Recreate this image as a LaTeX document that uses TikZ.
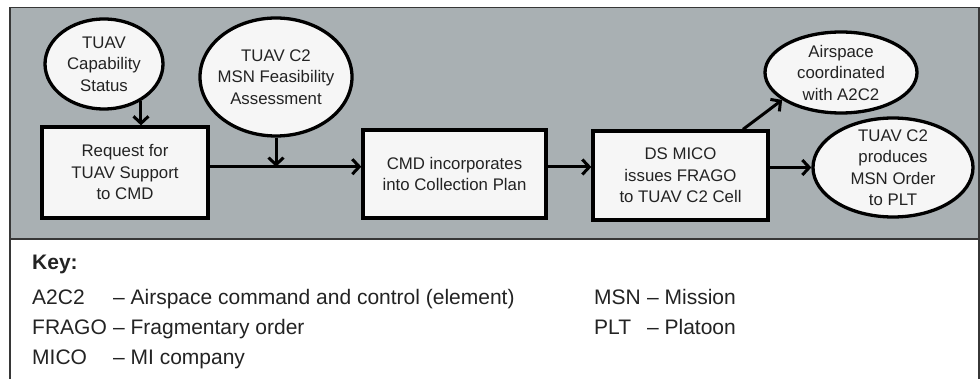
\documentclass[tikz,border=0pt]{standalone}
\usepackage{fontspec}
\setmainfont{Liberation Sans}
\usetikzlibrary{shapes.geometric,arrows.meta}
\definecolor{panelgray}{RGB}{169,176,179}
\definecolor{boxfill}{RGB}{246,246,246}
\definecolor{framegray}{RGB}{55,55,55}
\definecolor{inkgray}{RGB}{35,35,35}
\newcommand{\keyfont}{\fontsize{21}{25}\selectfont}
\newlength{\abbrwidth}
\settowidth{\abbrwidth}{\keyfont FRAGO\ }
\newlength{\abbrwidthb}
\settowidth{\abbrwidthb}{\keyfont MSN\ }
\begin{document}
\begin{tikzpicture}[x=1pt,y=-1pt,
  every node/.style={font=\fontsize{16.8}{21.5}\selectfont, text=inkgray},
  stepbox/.style={draw=black, line width=3.3pt, fill=boxfill, inner sep=0pt, align=center},
  oval/.style={ellipse, draw=black, line width=3.3pt, fill=boxfill,
    inner xsep=-8pt, inner ysep=-12pt, align=center},
  flow/.style={draw=black, line width=3pt, -{Straight Barb[length=7pt,width=15pt]}},
  keytext/.style={font=\keyfont, anchor=base west, inner sep=0pt},
  keyabbr/.style={keytext, text width=\abbrwidth, align=left},
  keyabbrb/.style={keytext, text width=\abbrwidthb, align=left}]
\useasboundingbox (0,0) rectangle (980,379);
\fill[white] (0,0) rectangle (980,379);

% grey process panel and outer frame
\fill[panelgray] (10,7.5) rectangle (979,239);
\draw[framegray, line width=1.2pt] (10,7.5) rectangle (979,392);
\draw[framegray, line width=1.2pt] (10,239) -- (979,239);

% inputs and outputs
\node[oval, minimum width=118, minimum height=90] (cap) at (104,64) {TUAV\\Capability\\Status};
\node[oval, minimum width=152, minimum height=118] (feas) at (276,77) {TUAV C2\\MSN Feasibility\\Assessment};
\node[oval, minimum width=152, minimum height=81] (air) at (841,72.5) {Airspace\\coordinated\\with A2C2};
\node[oval, minimum width=160, minimum height=99] (order) at (893,167.5) {TUAV C2\\produces\\MSN Order\\to PLT};

% process steps
\node[stepbox, minimum width=166, minimum height=91] (req) at (125,172.5) {Request for\\TUAV Support\\to CMD};
\node[stepbox, minimum width=183, minimum height=88] (cmd) at (454.5,174) {CMD incorporates\\into Collection Plan};
\node[stepbox, minimum width=175, minimum height=89] (mico) at (680.5,175.5) {DS MICO\\issues FRAGO\\to TUAV C2 Cell};

% connectors
\coordinate (reqout) at ([yshift=5.8pt]req.east);
\coordinate (cmdout) at ([yshift=7pt]cmd.east);
\coordinate (micotop) at ([xshift=62.5pt]mico.north);
\draw[flow] (cap.-45) -- (cap.-45 |- req.north);
\draw[flow] (reqout) -- (reqout -| cmd.west);
\draw[flow] (feas.south) -- (feas.south |- reqout);
\draw[flow] (cmdout) -- (cmdout -| mico.west);
\draw[flow] (mico.east |- order.west) -- (order.west);
\draw[flow] (micotop) -- (air.205);

% key
\node[keytext, font=\keyfont\bfseries] (keyhead) at (32,270) {Key:};
\node[keyabbr] (ka) at (32,304.5) {A2C2};
\node[keytext] (kat) at (ka.base east) {– Airspace command and control (element)};
\node[keyabbr] (kf) at (32,334.5) {FRAGO};
\node[keytext] (kft) at (kf.base east) {– Fragmentary order};
\node[keyabbr] (km) at (32,364.5) {MICO};
\node[keytext] (kmt) at (km.base east) {– MI company};
\node[keyabbrb] (kn) at (594,304.5) {MSN};
\node[keytext] (knt) at (kn.base east) {– Mission};
\node[keyabbrb] (kp) at (594,334.5) {PLT};
\node[keytext] (kpt) at (kp.base east) {– Platoon};
\end{tikzpicture}
\end{document}
